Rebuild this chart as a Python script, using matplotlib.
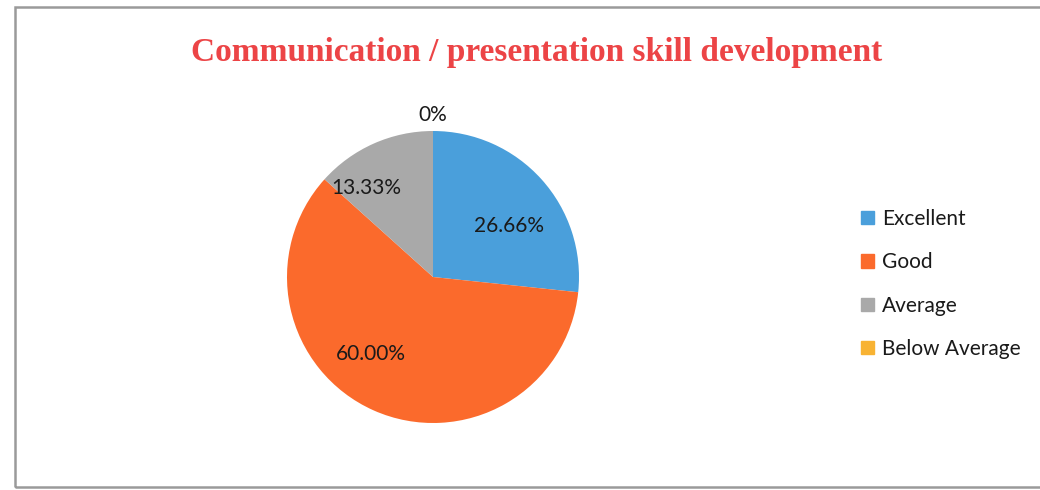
import matplotlib.pyplot as plt
import matplotlib.patches as mpatches
import numpy as np

categories = ["Excellent", "Good", "Average", "Below Average"]
percents = [26.66, 60.00, 13.33, 0.0]
pct_labels = ["26.66%", "60.00%", "13.33%", "0%"]
colors = ["#4a9fdb", "#fb6a2c", "#a9a9a9", "#f8b333"]
title = "Communication / presentation skill development"

W, H = 1040, 490
fig = plt.figure(figsize=(W / 100, H / 100), dpi=100)
fig.patch.set_facecolor("white")

# outer frame
fig.patches.append(mpatches.Rectangle((15 / W, 1 - 487 / H), 1.0, (487 - 7) / H,
                                      transform=fig.transFigure, fill=False,
                                      edgecolor="#9a9a9a", linewidth=1.8))

fig.text(537 / W, 1 - 52 / H, title, ha="center", va="center",
         family="Liberation Serif", fontweight="bold", fontsize=24,
         color="#ec4446")

# pie axes: centre (433, 277), radius 146 px
cx, cy, r = 433, 277, 146
ax = fig.add_axes([(cx - r) / W, 1 - (cy + r) / H, 2 * r / W, 2 * r / H])
wedges, _ = ax.pie(percents, colors=colors, startangle=90, counterclock=False,
                   radius=1.0, wedgeprops=dict(linewidth=0))
ax.set_xlim(-1, 1)
ax.set_ylim(-1, 1)
ax.set_aspect("equal")
ax.axis("off")

# label placement: radius and angle nudge for each slice
label_r = [0.63, 0.68, 0.76, 1.11]
angle_shift = [-8, -15, 13, 0]
for w, txt, lr, da in zip(wedges, pct_labels, label_r, angle_shift):
    theta = np.deg2rad((w.theta1 + w.theta2) / 2 + da)
    ax.text(lr * np.cos(theta), lr * np.sin(theta), txt, ha="center",
            va="center", family="Lato", fontsize=15, color="#1a1a1a",
            clip_on=False)

handles = [mpatches.Patch(color=c) for c in colors]
fig.legend(handles, categories, loc="upper left",
           bbox_to_anchor=(861 / W, 1 - 209 / H), frameon=False,
           prop=dict(family="Lato", size=15), handlelength=0.6,
           handleheight=0.6, handletextpad=0.4, labelspacing=1.12,
           borderpad=0, borderaxespad=0, labelcolor="#1a1a1a")

fig.savefig("out.png", dpi=100, facecolor="white")
